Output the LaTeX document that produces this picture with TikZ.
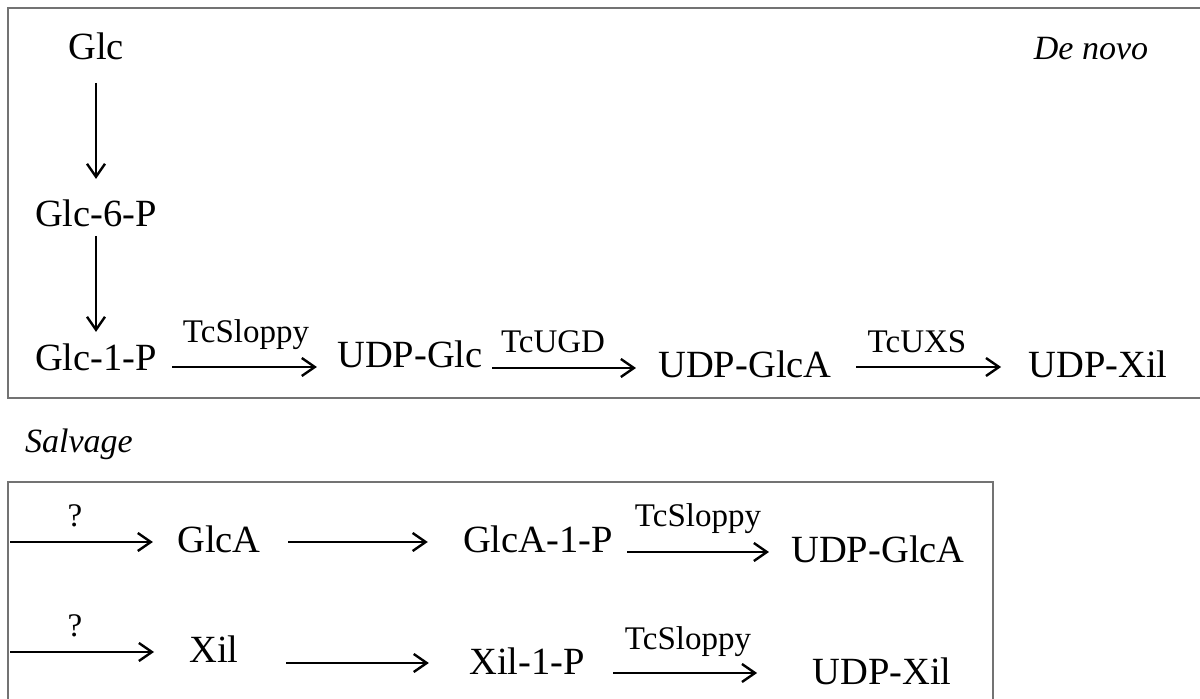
\documentclass[tikz,border=0pt]{standalone}
\usepackage{fontspec}
\setmainfont{Liberation Serif}
\usetikzlibrary{arrows.meta}

\begin{document}
\begin{tikzpicture}[x=0.5pt,y=-0.5pt]
    \tikzstyle{met}=[inner sep=0pt,anchor=base,font=\fontsize{19.25}{23}\selectfont]
    \tikzstyle{enz}=[inner sep=0pt,anchor=base,font=\fontsize{16.5}{20}\selectfont]
    \tikzstyle{sect}=[inner sep=0pt,anchor=base,font=\fontsize{17}{20}\selectfont\itshape]
    \tikzstyle{rxn}=[line width=1.2pt,-{Straight Barb[length=6.5pt,width=9pt]}]
    \tikzstyle{frame}=[draw=black!55,line width=1pt]

    \useasboundingbox (0,0) rectangle (1200,699);
    \clip (0,0) rectangle (1200,699);

    % de novo
    \draw[frame] (8,8) rectangle (1215,398);
    \node[sect] (denovo) at (1091,60) {De novo};

    \node[met] (glc)     at (96,60)   {Glc};
    \node[met] (glc6p)   at (96,227)  {Glc-6-P};
    \node[met] (glc1p)   at (96,371)  {Glc-1-P};
    \node[met] (udpglc)  at (410,368) {UDP-Glc};
    \node[met] (udpglca) at (745,378) {UDP-GlcA};
    \node[met] (udpxil)  at (1098,378) {UDP-Xil};

    \node[enz] (sloppy1) at (246,343) {TcSloppy};
    \node[enz] (ugd)     at (553,353) {TcUGD};
    \node[enz] (uxs)     at (917,353) {TcUXS};

    \draw[rxn,shorten <=11pt,shorten >=10.5pt] (glc.south) -- (glc6p.north);
    \draw[rxn,shorten <=4pt,shorten >=6pt] (glc6p.south) -- (glc1p.north);
    \draw[rxn,shorten <=7.5pt,shorten >=10pt] ([yshift=2pt]glc1p.base east) -- ([yshift=2pt]glc1p.base east -| udpglc.west);
    \draw[rxn,shorten <=4.5pt,shorten >=11pt] (udpglc.base east) -- (udpglc.base east -| udpglca.west);
    \draw[rxn,shorten <=12pt,shorten >=13.5pt] ([yshift=5.5pt]udpglca.base east) -- ([yshift=5.5pt]udpglca.base east -| udpxil.west);

    % salvage
    \node[sect] (salvage) at (79,453) {Salvage};
    \draw[frame] (8,482) rectangle (993,720);

    \coordinate (in1) at (10,542);
    \coordinate (in2) at (10,652);
    \node[enz] (q1) at (75,527) {?};
    \node[enz] (q2) at (75,637) {?};

    \node[met] (glca)     at (219,553) {GlcA};
    \node[met] (glca1p)   at (538,553) {GlcA-1-P};
    \node[met] (udpglca2) at (878,563) {UDP-GlcA};
    \node[met] (xil)      at (214,663) {Xil};
    \node[met] (xil1p)    at (527,675) {Xil-1-P};
    \node[met] (udpxil2)  at (882,685) {UDP-Xil};

    \node[enz] (sloppy2) at (698,527) {TcSloppy};
    \node[enz] (sloppy3) at (688,650) {TcSloppy};

    \draw[rxn,shorten >=12pt] (in1) -- (in1 -| glca.west);
    \draw[rxn,shorten <=13.5pt,shorten >=17.5pt] ([yshift=5.5pt]glca.base east) -- ([yshift=5.5pt]glca.base east -| glca1p.west);
    \draw[rxn,shorten <=7pt,shorten >=11pt] ([yshift=0.5pt]glca1p.base east) -- ([yshift=0.5pt]glca1p.base east -| udpglca2.west);
    \draw[rxn,shorten >=17.5pt] (in2) -- (in2 -| xil.west);
    \draw[rxn,shorten <=23.5pt,shorten >=20pt] (xil.base east) -- (xil.base east -| xil1p.west);
    \draw[rxn,shorten <=14pt,shorten >=27.5pt] ([yshift=1pt]xil1p.base east) -- ([yshift=1pt]xil1p.base east -| udpxil2.west);
\end{tikzpicture}
\end{document}
